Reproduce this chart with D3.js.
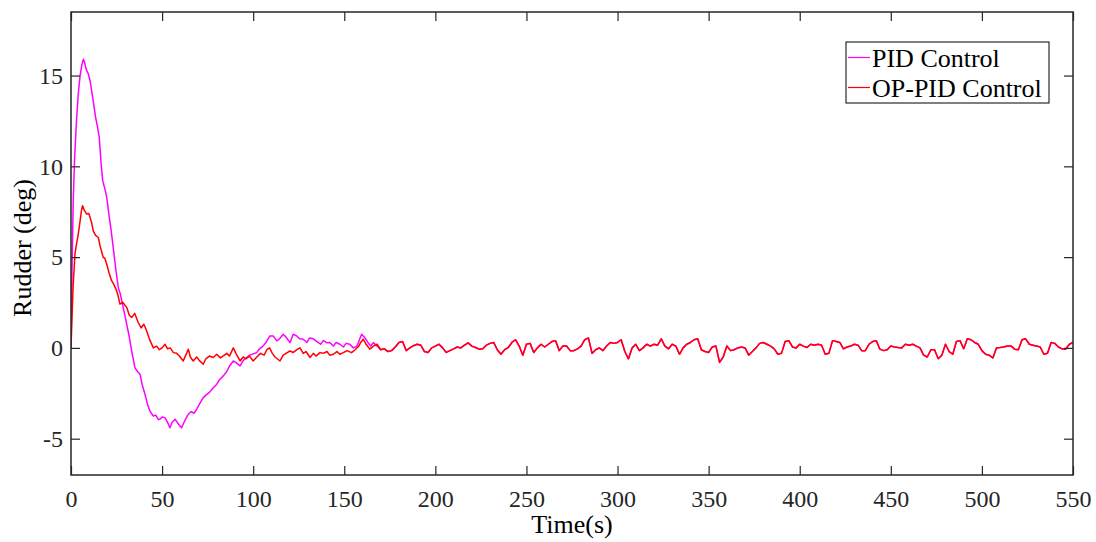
<!DOCTYPE html>
<html>
<head>
<meta charset="utf-8">
<style>
    body { margin: 0; background: #fff; }
    svg { font-family: 'Liberation Serif', 'Times New Roman', serif; }
    .axis text { font-family: 'Liberation Serif', 'Times New Roman', serif; font-size: 24px; fill: #262626; }
</style>
</head>
<body>
<svg width="1096" height="542"></svg>

<script src="https://d3js.org/d3.v7.min.js"></script>
<script>
    // transient part, [time (s), rudder (deg)]
    let pidEarly = [[0,0],[0.5,4],[1.2,8],[2,10.5],[3,12.5],[4,14],[5,15],[6,15.6],[6.8,15.9],[7.5,15.7],[8.5,15.3],[9.5,15.1],[10.5,14.7],[12.2,13.6],[13.5,12.7],[14.5,12.2],[15.5,11.6],[16.5,10.2],[17.4,9.2],[18.5,8.8],[19.6,8.3],[21,7.2],[22,6.5],[23.2,5.5],[24.5,4.4],[26,3.3],[27,3.0],[28.7,2.2],[30.6,1.3],[32,0.6],[33.3,-0.17],[35.1,-1.1],[36.5,-1.3],[37.9,-1.45],[39,-2.0],[40.6,-2.55],[42,-3.1],[43.4,-3.5],[45.2,-3.75],[46.5,-3.7],[48,-3.95],[48.8,-3.93],[50,-3.8],[51.6,-3.84],[53,-4.1],[54.3,-4.4],[55.5,-4.1],[57.1,-3.93],[59,-4.2],[60.7,-4.4],[62.5,-4.0],[64.4,-3.65],[66,-3.5],[67.5,-3.6],[69,-3.37],[70.5,-3.1],[72.6,-2.74],[74,-2.6],[76,-2.45],[78.1,-2.19],[80,-2.0],[81.5,-1.75],[83.6,-1.54],[85.5,-1.3],[87,-1.0],[89.1,-0.72],[90.5,-0.8],[92.8,-0.99],[94.5,-0.7],[96.4,-0.53],[98,-0.4],[100,-0.33],[101.9,-0.26],[103.5,-0.05],[105.5,0.11],[107,0.3],[109.2,0.66],[111,0.66],[112.9,0.39],[114.5,0.5],[116.5,0.75],[118,0.6],[120.2,0.29],[122,0.75],[123.9,0.66],[125.5,0.5],[127.5,0.48],[129.5,0.3],[131,0.55],[133,0.5],[135,0.35],[137,0.2],[138.5,0.4],[140.3,0.29],[142,0.3],[144,0.1],[145.5,0.3],[147.6,0.2],[149.5,0.05],[151,0.25],[153,0.2],[155,0.0],[157,0.1],[159.5,0.75],[161,0.6],[163,0.3],[164.5,0.1],[166,0.29],[168,0.1],[170,-0.1]]

    let opEarly = [[0,0],[0.5,1.5],[1.2,3.5],[2.2,5.2],[3,5.7],[4,6.27],[5,7.0],[5.8,7.6],[6.4,7.83],[7.2,7.6],[8.6,7.37],[9.8,7.4],[11.3,6.91],[12.2,6.45],[13.5,6.2],[15,6.08],[16,5.6],[17.7,4.98],[18.5,4.95],[19.6,4.61],[21,4.1],[22.3,3.7],[23.5,3.5],[25.1,3.14],[26,2.8],[26.9,2.41],[28.5,2.5],[30.6,2.22],[32,1.8],[33.3,1.67],[35,1.9],[36.9,1.4],[38.5,1.1],[40,1.3],[41.5,0.94],[43,0.5],[45.2,0.0],[47,0.1],[48.5,-0.1],[50,0.0],[51.6,0.2],[53,-0.05],[54.5,0.0],[56.2,-0.26],[58,-0.3],[59.5,-0.45],[61.6,-0.72],[63,-0.4],[64.4,-0.07],[65.5,-0.5],[67.1,-0.72],[69,-0.5],[70.5,-0.7],[72.6,-0.9],[74,-0.6],[76,-0.45],[78.1,-0.53],[80,-0.35],[82,-0.55],[83.6,-0.44],[85.5,-0.3],[87,-0.45],[89.1,0.0],[90.5,-0.3],[92.8,-0.72],[94.5,-0.5],[96,-0.6],[98,-0.45],[100,-0.72],[102,-0.5],[104,-0.3],[106,-0.4],[107.5,-0.1],[109,0.0],[110.5,-0.3],[112,-0.5],[114.7,-0.72],[116.5,-0.4],[118,-0.3],[120.2,-0.17],[122,-0.25],[124,-0.1],[125.7,0.0],[127.5,-0.3],[129,-0.2],[131.2,-0.53],[133,-0.3],[134.5,-0.45],[136.7,-0.26],[138.5,-0.3],[140.5,-0.2],[142,-0.4],[144,-0.35],[146,-0.2],[147.5,-0.35],[149.5,-0.26],[151.5,-0.15],[154,-0.26],[156,-0.1],[158,0.1],[159,0.3],[160.4,0.48],[162,0.2],[164,-0.07],[166,0.1],[168,0.2],[170,-0.1]]

    // steady state, both controllers lie on top of each other, every 2 s from 172 s
    let tailStart = 172
    let tailStep = 2
    let tail = [-0.05,-0.2,-0.15,0.05,0.3,0.35,-0.15,0.0,0.12,0.2,0.15,-0.2,-0.25,0.0,0.1,0.2,0.0,-0.25,-0.15,-0.05,
        0.05,0.0,0.15,0.28,0.1,0.02,-0.07,-0.05,0.15,0.25,0.3,-0.1,-0.35,-0.1,0.02,0.3,0.45,0.1,-0.4,0.2,
        0.25,-0.25,0.0,0.2,0.05,0.2,0.35,0.4,-0.15,0.1,0.1,-0.15,-0.15,-0.05,0.1,0.45,0.55,-0.3,-0.1,0.0,
        -0.15,0.1,0.3,0.25,0.3,0.45,-0.2,-0.6,0.0,0.2,-0.15,0.0,0.2,0.1,0.2,0.15,0.5,0.1,-0.05,0.2,
        0.1,-0.35,0.0,0.2,0.3,0.45,0.5,-0.1,-0.2,-0.25,0.05,0.1,-0.8,-0.5,0.1,-0.15,-0.1,0.0,0.05,0.0,
        -0.4,-0.2,0.0,0.25,0.3,0.2,0.1,-0.05,-0.35,-0.3,0.35,0.4,0.05,0.0,0.2,0.1,0.02,0.2,0.15,0.2,
        0.15,-0.35,-0.3,0.4,0.35,0.3,-0.05,0.05,0.1,0.2,0.15,-0.15,-0.15,0.2,0.35,0.4,-0.07,-0.15,-0.1,0.1,
        0.05,0.02,0.0,0.2,0.15,0.2,0.1,0.0,-0.4,-0.5,-0.1,-0.1,-0.6,-0.4,0.2,-0.2,-0.35,0.35,0.4,-0.05,
        0.5,0.45,0.3,0.2,-0.15,-0.35,-0.4,-0.55,0.0,0.02,0.05,0.1,0.1,-0.07,-0.1,0.45,0.5,0.2,0.15,0.1,
        0.05,-0.35,-0.3,0.3,0.25,0.05,-0.05,-0.07,0.2,0.3]

    let xTicks = [0, 50, 100, 150, 200, 250, 300, 350, 400, 450, 500, 550]
    let yTicks = [-5, 0, 5, 10, 15]
    let seriesNames = ["PID Control", "OP-PID Control"]
    let seriesColors = ["#ff00ff", "#ff0000"]

    let tailPoints = tail.map((v, i) => [tailStart + i * tailStep, v])
    let pid = pidEarly.concat(tailPoints)
    let op = opEarly.concat(tailPoints)

    let svg = d3.select("svg")
    let plotL = 71, plotT = 12, plotR = 1073, plotB = 475
    let axisColor = "#262626"

    let x = d3.scaleLinear().domain([0, 550]).range([plotL, plotR])
    let y = d3.scaleLinear().domain([-7, 18.5]).range([plotB, plotT])

    let line = d3.line()
        .x(d => x(d[0]))
        .y(d => y(d[1]))

    svg.append("clipPath").attr("id", "clip")
        .append("rect")
        .attr("x", plotL).attr("y", plotT)
        .attr("width", plotR - plotL).attr("height", plotB - plotT)

    let lines = svg.append("g").attr("clip-path", "url(#clip)")

    ;[pid, op].forEach((s, i) => {
        lines.append("path")
            .attr("d", line(s))
            .style("fill", "none")
            .style("stroke", seriesColors[i])
            .style("stroke-width", 1.5)
            .style("stroke-linejoin", "round")
    })

    // axes, ticks inside, on all four sides
    let tl = 9
    let plain = d => String(d)
    svg.append("g").attr("class", "axis")
        .attr("transform", `translate(0,${plotB})`)
        .call(d3.axisBottom(x).tickValues(xTicks).tickSize(-tl).tickPadding(15).tickFormat(plain))
    svg.append("g").attr("class", "axis")
        .attr("transform", `translate(0,${plotT})`)
        .call(d3.axisTop(x).tickValues(xTicks).tickSize(-tl).tickFormat(""))
    svg.append("g").attr("class", "axis")
        .attr("transform", `translate(${plotL},0)`)
        .call(d3.axisLeft(y).tickValues(yTicks).tickSize(-tl).tickPadding(8).tickFormat(plain))
    svg.append("g").attr("class", "axis")
        .attr("transform", `translate(${plotR},0)`)
        .call(d3.axisRight(y).tickValues(yTicks).tickSize(-tl).tickFormat(""))

    svg.selectAll(".axis .domain").remove()
    svg.selectAll(".axis line").style("stroke", axisColor).style("stroke-width", 1.2)

    svg.append("rect")
        .attr("x", plotL).attr("y", plotT)
        .attr("width", plotR - plotL).attr("height", plotB - plotT)
        .style("fill", "none")
        .style("stroke", axisColor)
        .style("stroke-width", 1.5)

    svg.append("text")
        .attr("x", (plotL + plotR) / 2)
        .attr("y", 533)
        .attr("text-anchor", "middle")
        .style("font-size", "26px")
        .style("fill", "#000")
        .text("Time(s)")

    svg.append("text")
        .attr("transform", `translate(31,248) rotate(-90)`)
        .attr("text-anchor", "middle")
        .style("font-size", "26px")
        .style("fill", "#000")
        .text("Rudder (deg)")

    // legend
    let legend = svg.append("g")
    legend.append("rect")
        .attr("x", 846).attr("y", 42)
        .attr("width", 203).attr("height", 61)
        .style("fill", "#fff")
        .style("stroke", "#000")
        .style("stroke-width", 1)

    seriesNames.forEach((name, i) => {
        let ly = 57.5 + i * 30
        legend.append("line")
            .attr("x1", 848).attr("x2", 870)
            .attr("y1", ly).attr("y2", ly)
            .style("stroke", seriesColors[i])
            .style("stroke-width", 1.2)
        legend.append("text")
            .attr("x", 872).attr("y", ly + 9)
            .style("font-size", "26px")
            .style("fill", "#000")
            .text(name)
    })
</script>
</body>
</html>
